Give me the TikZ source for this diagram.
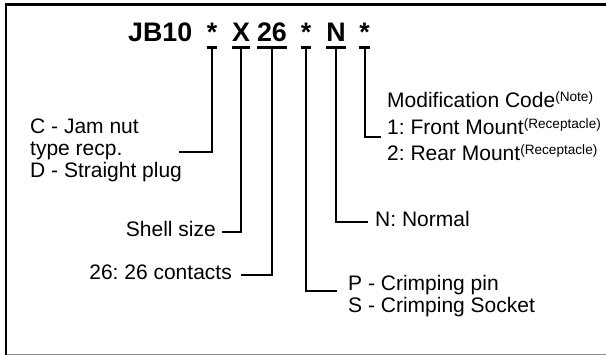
\documentclass[tikz,border=0pt]{standalone}
\usepackage{fontspec}
\setmainfont{Liberation Sans}
\frenchspacing
\tikzset{
  code/.style={font=\bfseries\fontsize{26.8}{28}\selectfont, inner sep=0pt, anchor=base},
  lbl/.style={font=\fontsize{21}{22}\selectfont, inner sep=0pt, anchor=base west},
  lble/.style={lbl, anchor=base east},
  conn/.style={line width=2pt, line cap=rect},
  uline/.style={line width=2.6pt},
}
\newcommand{\sups}[1]{\raisebox{6pt}{\fontsize{13.6}{13.6}\selectfont #1}}
\begin{document}
\frenchspacing
\begin{tikzpicture}[x=1pt,y=-1pt]
\useasboundingbox (0,0) rectangle (606,355);
% frame
\draw[black!45, line width=1.3pt] (5,354.3) -- (606,354.3);
\draw[line width=2.6pt] (6,356) -- (6,4.3) -- (608,4.3);
% code
\node[code, anchor=base west] (jb) at (128,41.5) {JB10};
\node[code] (s1) at (212,41.5) {*};
\node[code] (cx) at (241,41.5) {X};
\node[code] (c26) at (272,41.5) {26};
\node[code] (s2) at (306,41.5) {*};
\node[code] (cn) at (336,41.5) {N};
\node[code] (s3) at (364.5,41.5) {*};
\foreach \n in {s1,cx,c26,s2,cn,s3}{
  \draw[uline] ([yshift=-6pt]\n.base west) -- ([yshift=-6pt]\n.base east);
}
% labels
\node[lbl] (la) at (30,134) {C - Jam nut};
\node[lbl] (lb) at (30,156) {type recp.};
\node[lbl] (lc) at (30,178) {D - Straight plug};
\node[lble] (shell) at (216,237) {Shell size};
\node[lble] (cont) at (232,280) {26: 26 contacts};
\node[lbl] (norm) at (375,227) {N: Normal};
\node[lbl] (pin) at (348,291) {P - Crimping pin};
\node[lbl] (sock) at (348,313) {S - Crimping Socket};
\node[lbl] (mod) at (387,108) {Modification Code\sups{(Note)}};
\node[lbl] (front) at (387,135) {1: Front Mount\sups{(Receptacle)}};
\node[lbl] (rear) at (387,161) {2: Rear Mount\sups{(Receptacle)}};
% connector ends
\coordinate (e1) at (180,152);
\coordinate (e2) at (223,232);
\coordinate (e3) at (242,275);
\coordinate (e4) at (336,291);
\coordinate (e5) at (367,222);
\coordinate (e6) at (380,137);
\draw[conn] ([yshift=-7pt]s1.base) |- (e1);
\draw[conn] ([yshift=-7pt]cx.base) |- (e2);
\draw[conn] ([yshift=-7pt]c26.base) |- (e3);
\draw[conn] ([yshift=-7pt]s2.base) |- (e4);
\draw[conn] ([yshift=-7pt]cn.base) |- (e5);
\draw[conn] ([yshift=-7pt]s3.base) |- (e6);
\end{tikzpicture}
\end{document}
